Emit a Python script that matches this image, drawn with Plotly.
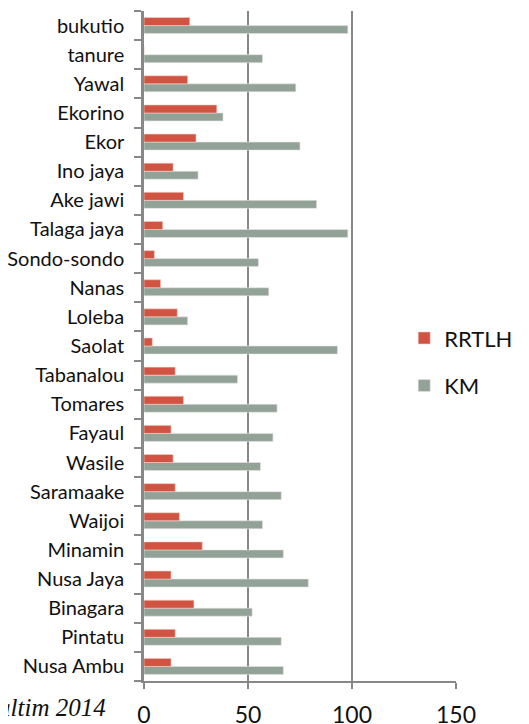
import plotly.graph_objects as go

categories = ["Nusa Ambu", "Pintatu", "Binagara", "Nusa Jaya", "Minamin", "Waijoi",
              "Saramaake", "Wasile", "Fayaul", "Tomares", "Tabanalou", "Saolat",
              "Loleba", "Nanas", "Sondo-sondo", "Talaga jaya", "Ake jawi", "Ino jaya",
              "Ekor", "Ekorino", "Yawal", "tanure", "bukutio"]
rrtlh = [13, 15, 24, 13, 28, 17, 15, 14, 13, 19, 15, 4, 16, 8, 5, 9, 19, 14, 25, 35, 21, 0, 22]
km = [67, 66, 52, 79, 67, 57, 66, 56, 62, 64, 45, 93, 21, 60, 55, 98, 83, 26, 75, 38, 73, 57, 98]
x_ticks = [0, 50, 100, 150]
source_text = "Haltim 2014"

RED = "#D05441"
GREY = "#92A297"
AXIS = "#888888"

fig = go.Figure()
fig.add_trace(go.Bar(y=categories, x=km, name="KM", orientation="h",
                     marker=dict(color=GREY, line=dict(color="#e6e6e6", width=0.6)),
                     legendgroup="b", legendrank=2))
fig.add_trace(go.Bar(y=categories, x=rrtlh, name="RRTLH", orientation="h",
                     marker=dict(color=RED, line=dict(color="#f0d0c8", width=0.6)),
                     legendgroup="a", legendrank=1))

fig.update_layout(
    width=529, height=724,
    margin=dict(l=136, r=81, t=3, b=51, autoexpand=False),
    paper_bgcolor="white", plot_bgcolor="white",
    barmode="group", bargap=0.45, bargroupgap=0,
    font=dict(family="Lato, Open Sans, sans-serif", color="#1a1a1a"),
    legend=dict(x=0.834, xanchor="left", y=0.543, yanchor="top",
                traceorder="grouped", tracegroupgap=16,
                font=dict(size=22, family="Lato, sans-serif", color="#111111"),
                bgcolor="rgba(0,0,0,0)", itemwidth=30),
    showlegend=True,
)
fig.update_xaxes(range=[0, 150], tickvals=x_ticks, ticktext=[str(v) for v in x_ticks],
                 showgrid=True, gridcolor=AXIS, gridwidth=2,
                 showline=True, linecolor=AXIS, linewidth=2,
                 ticks="outside", ticklen=6, tickcolor=AXIS, tickwidth=2,
                 tickfont=dict(size=23, color="#111111"), ticklabelstandoff=6,
                 zeroline=False, fixedrange=True, automargin=False)
fig.update_yaxes(type="category", categoryorder="array", categoryarray=categories,
                 showline=True, linecolor=AXIS, linewidth=2.5, showgrid=False,
                 ticks="outside", ticklen=7, tickcolor=AXIS, tickwidth=2,
                 tickson="boundaries", tickfont=dict(size=20, color="#111111"),
                 ticklabelstandoff=13, fixedrange=True, automargin=False)

fig.add_annotation(text="<i>" + source_text + "</i>", xref="paper", yref="paper",
                   x=-0.115, y=-0.04, xanchor="right", yanchor="middle",
                   showarrow=False,
                   font=dict(family="Liberation Serif, Times New Roman, serif", size=25, color="#111111"))

fig.write_html("out.html")
